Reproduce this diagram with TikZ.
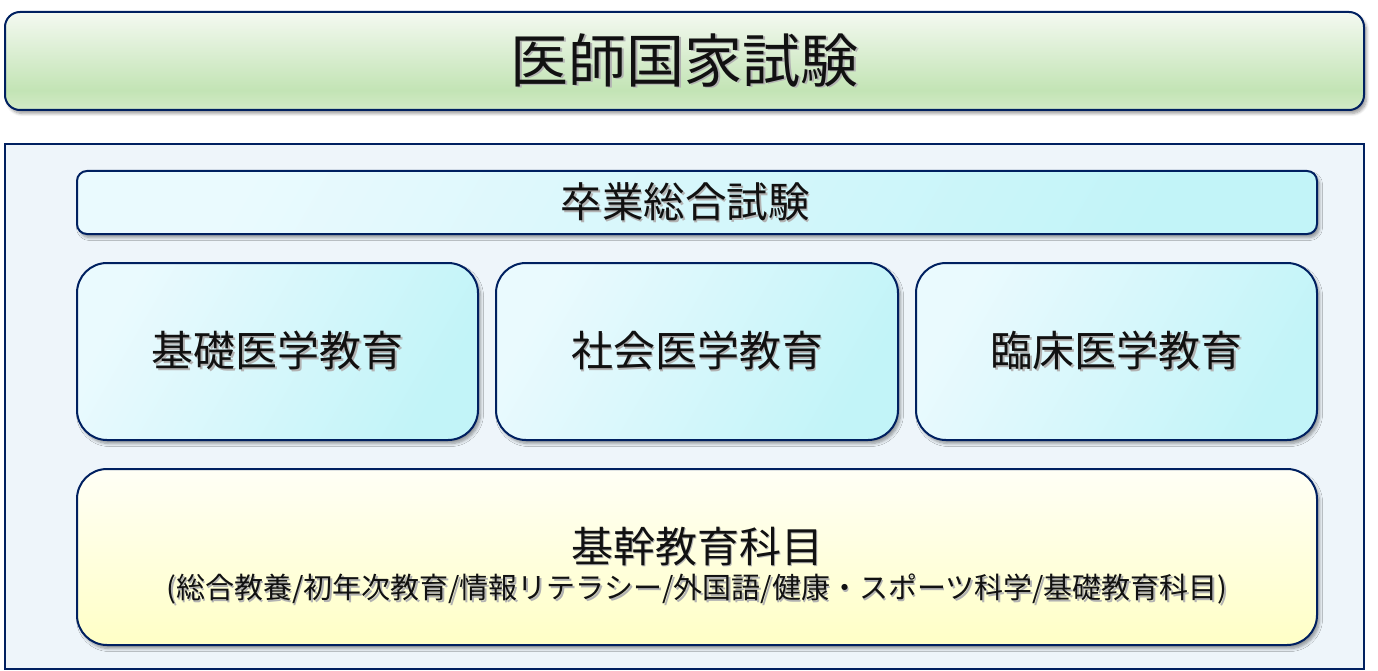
\documentclass[tikz,border=0pt]{standalone}
\usepackage{fontspec}
\setmainfont{Noto Sans CJK JP}
\usetikzlibrary{shadows.blur}
\definecolor{navy}{HTML}{002060}
\definecolor{gtop}{HTML}{F4F9F1}
\definecolor{gmid}{HTML}{C3E4B5}
\definecolor{gbot}{HTML}{D3EBC8}
\definecolor{bla}{HTML}{EAFAFE}
\definecolor{blb}{HTML}{C2F4F8}
\definecolor{yla}{HTML}{FFFFF6}
\definecolor{ylb}{HTML}{FFFFC6}
\definecolor{panel}{HTML}{EEF5FA}
\definecolor{txt}{HTML}{111111}
\pgfdeclareverticalshading{greenbar}{100bp}{color(0bp)=(gbot); color(25bp)=(gbot); color(35bp)=(gmid); color(75bp)=(gtop); color(100bp)=(gtop)}
\newcommand{\shtext}[1]{\makebox[0pt][l]{\hspace{1.8pt}\raisebox{-1.8pt}{\textcolor{black!30}{#1}}}#1}
\begin{document}
\begin{tikzpicture}[x=1pt,y=-1pt,
  boxsh/.style={blur shadow={shadow xshift=2.5pt, shadow yshift=-3.5pt, shadow blur radius=3pt, shadow blur steps=6, shadow opacity=40}},
  base/.style={draw=navy, line width=2pt, inner sep=0pt, text=txt, align=center},
  greenbox/.style={base, boxsh, rounded corners=15pt, shade, shading=greenbar},
  bluebox/.style={base, boxsh, shade, left color=bla, right color=blb, shading angle=60},
  yellowbox/.style={base, boxsh, rounded corners=30pt, shade, top color=yla, bottom color=ylb},
  panelbox/.style={base, fill=panel}
]
\useasboundingbox (0,0) rectangle (1378,671);
\node[greenbox, minimum width=1359pt, minimum height=98pt] (kokushi) at (684.5,61)
  {\fontsize{58}{64}\selectfont\shtext{医師国家試験}};
\node[panelbox, minimum width=1359pt, minimum height=524pt] (panel) at (684.5,406.5) {};
\node[bluebox, rounded corners=10pt, minimum width=1240pt, minimum height=63pt] (sotsu) at (697,202.5) {};
\node[text=txt, inner sep=0pt] (sotsut) at (685,202.5)
  {\fontsize{41.5}{44}\selectfont\shtext{卒業総合試験}};
\node[bluebox, rounded corners=30pt, minimum width=401pt, minimum height=177pt] (kiso) at (277.5,351.5)
  {\fontsize{42}{46}\selectfont\shtext{基礎医学教育}};
\node[bluebox, rounded corners=30pt, minimum width=402pt, minimum height=177pt] (shakai) at (697,351.5)
  {\fontsize{42}{46}\selectfont\shtext{社会医学教育}};
\node[bluebox, rounded corners=30pt, minimum width=401pt, minimum height=177pt] (rinsho) at (1116.5,351.5)
  {\fontsize{42}{46}\selectfont\shtext{臨床医学教育}};
\node[yellowbox, minimum width=1240pt, minimum height=176pt] (kikan) at (697,557) {};
\node[text=txt, inner sep=0pt] (kikant) at (697,547)
  {\fontsize{42}{46}\selectfont\shtext{基幹教育科目}};
\node[text=txt, inner sep=0pt] (kikans) at (697,590)
  {\fontsize{29}{32}\selectfont\shtext{(総合教養/初年次教育/情報リテラシー/外国語/健康・スポーツ科学/基礎教育科目)}};
\end{tikzpicture}
\end{document}
